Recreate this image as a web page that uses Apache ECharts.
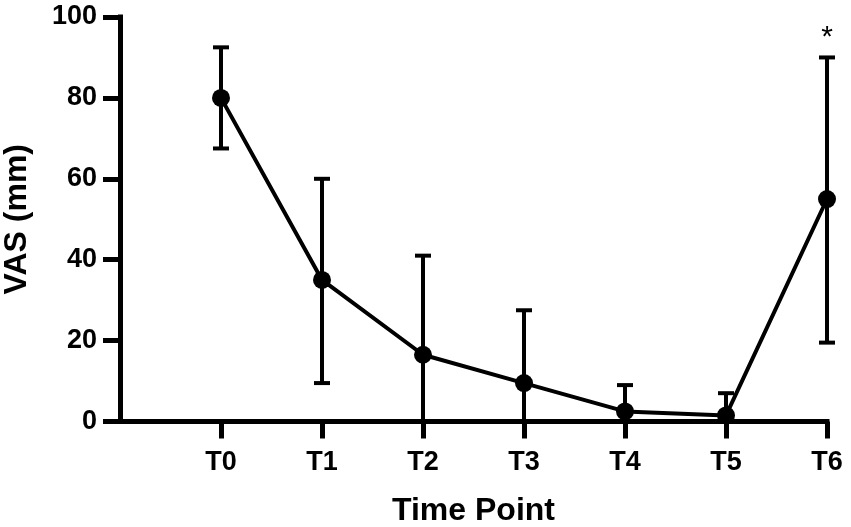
<!DOCTYPE html>
<html><head><meta charset="utf-8">
<script src="https://cdn.jsdelivr.net/npm/echarts@6/dist/echarts.min.js"></script>
<style>html,body{margin:0;padding:0;background:#fff}#c{width:851px;height:527px}</style>
</head><body><div id="c"></div>
<script>
const categories = ['', 'T0', 'T1', 'T2', 'T3', 'T4', 'T5', 'T6'];
const timePoints = ['T0', 'T1', 'T2', 'T3', 'T4', 'T5', 'T6'];
const meanVAS = [80, 35, 16.5, 9.5, 2.5, 1.5, 55];
const upperVAS = [92.5, 60, 41, 27.5, 9, 7, 90];
const lowerVAS = [67.5, 9.5, 0, 0, 0, 0, 19.5];
const marks = ['', '', '', '', '', '', '*'];

const FONT = '"Liberation Sans", Arial, sans-serif';
const chart = echarts.init(document.getElementById('c'), null, {renderer: 'canvas'});
chart.setOption({
  animation: false,
  backgroundColor: '#fff',
  grid: {left: 120, right: 24, top: 17, bottom: 105.5, containLabel: false, outerBoundsMode: 'none'},
  xAxis: {
    type: 'category',
    data: categories,
    boundaryGap: false,
    name: 'Time Point',
    nameLocation: 'middle',
    nameGap: 74,
    nameTextStyle: {fontFamily: FONT, fontWeight: 'bold', fontSize: 32, color: '#000'},
    axisLine: {lineStyle: {color: '#000', width: 5, cap: 'square'}},
    axisTick: {show: true, length: 17, interval: (i) => i !== 0, lineStyle: {color: '#000', width: 5}},
    axisLabel: {margin: 28, interval: (i) => i !== 0, fontFamily: FONT, fontWeight: 'bold', fontSize: 27, color: '#000'},
    splitLine: {show: false}
  },
  yAxis: {
    type: 'value',
    min: 0, max: 100, interval: 20,
    name: 'VAS (mm)',
    nameLocation: 'middle',
    nameGap: 87,
    nameTextStyle: {fontFamily: FONT, fontWeight: 'bold', fontSize: 32, color: '#000'},
    axisLine: {show: true, lineStyle: {color: '#000', width: 5, cap: 'square'}},
    axisTick: {show: true, length: 17, lineStyle: {color: '#000', width: 5}},
    axisLabel: {margin: 23, fontFamily: FONT, fontWeight: 'bold', fontSize: 27, color: '#000'},
    splitLine: {show: false}
  },
  series: [
    {
      type: 'custom',
      z: 2,
      data: timePoints.map((t, i) => [t, lowerVAS[i], upperVAS[i]]),
      encode: {x: 0, y: [1, 2]},
      renderItem: function (params, api) {
        const xi = api.value(0);
        const lo = api.coord([xi, api.value(1)]);
        const hi = api.coord([xi, api.value(2)]);
        const hw = 8;
        const st = {stroke: '#000', lineWidth: 4};
        const children = [
          {type: 'line', shape: {x1: lo[0], y1: lo[1], x2: hi[0], y2: hi[1]}, style: st},
          {type: 'line', shape: {x1: hi[0] - hw, y1: hi[1], x2: hi[0] + hw, y2: hi[1]}, style: st}
        ];
        if (api.value(1) > 0) {
          children.push({type: 'line', shape: {x1: lo[0] - hw, y1: lo[1], x2: lo[0] + hw, y2: lo[1]}, style: st});
        }
        const m = marks[params.dataIndex];
        if (m) {
          children.push({type: 'text', style: {text: m, x: hi[0], y: hi[1] - 20, align: 'center', verticalAlign: 'middle',
            fontFamily: FONT, fontSize: 30, fill: '#000'}});
        }
        return {type: 'group', children: children};
      }
    },
    {
      type: 'line',
      z: 3,
      data: timePoints.map((t, i) => [t, meanVAS[i]]),
      symbol: 'circle',
      symbolSize: 18,
      lineStyle: {color: '#000', width: 4},
      itemStyle: {color: '#000'}
    }
  ]
});
</script></body></html>
